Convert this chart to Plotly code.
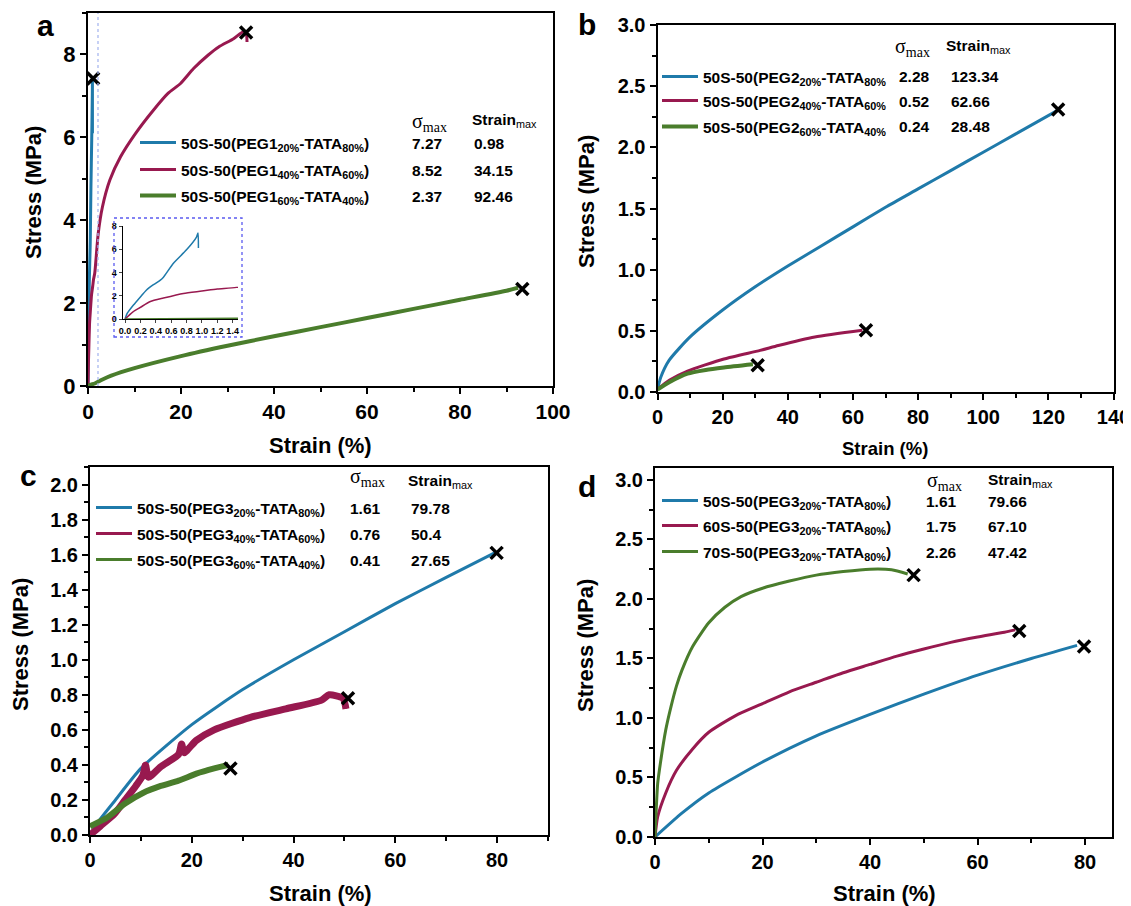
import plotly.graph_objects as go

# ---------------- data ----------------
# Panel a : PEG1 series
a_labels = ["50S-50(PEG1<sub>20%</sub>-TATA<sub>80%</sub>)",
            "50S-50(PEG1<sub>40%</sub>-TATA<sub>60%</sub>)",
            "50S-50(PEG1<sub>60%</sub>-TATA<sub>40%</sub>)"]
a_sigma = ["7.27", "8.52", "2.37"]
a_strain = ["0.98", "34.15", "92.46"]
a_blue_x = [0, 0.03, 0.11, 0.2, 0.28, 0.37, 0.46, 0.5, 0.63, 0.8, 0.93, 0.95, 0.955]
a_blue_y = [0, 0.5, 1.2, 1.9, 2.5, 2.95, 3.35, 3.6, 4.8, 5.95, 7.05, 7.4, 6.1]
a_red_x = [0, 0.1, 0.2, 0.33, 0.5, 0.76, 1.0, 1.2, 1.45, 2.2, 3.1, 4.7, 7.0, 10.2, 14.1,
           17.2, 19.9, 22.7, 25.8, 28.1, 31.3, 33.4, 34.0, 34.2]
a_red_y = [0, 0.6, 1.0, 1.5, 1.8, 2.2, 2.4, 2.58, 2.72, 3.68, 4.32, 4.97, 5.53, 6.09, 6.66,
           7.06, 7.3, 7.66, 7.98, 8.18, 8.38, 8.55, 8.52, 8.3]
a_green_x = [0, 0.5, 1.45, 3, 5, 10, 20, 30, 40, 50, 60, 70, 80, 90, 92.5]
a_green_y = [0, 0.03, 0.06, 0.15, 0.25, 0.43, 0.72, 0.97, 1.2, 1.42, 1.64, 1.86, 2.08, 2.3, 2.37]
a_break_x = [1.1, 34.0, 93.4]
a_break_y = [7.42, 8.53, 2.34]
a_inset_mark = 2.15

# Panel b : PEG2 series
b_labels = ["50S-50(PEG2<sub>20%</sub>-TATA<sub>80%</sub>",
            "50S-50(PEG2<sub>40%</sub>-TATA<sub>60%</sub>",
            "50S-50(PEG2<sub>60%</sub>-TATA<sub>40%</sub>"]
b_sigma = ["2.28", "0.52", "0.24"]
b_strain = ["123.34", "62.66", "28.48"]
b_blue_x = [0, 1, 3.6, 10, 20, 30, 40, 50, 60, 70, 80, 90, 100, 110, 122.7]
b_blue_y = [0.02, 0.12, 0.26, 0.45, 0.67, 0.86, 1.03, 1.19, 1.35, 1.51, 1.66, 1.81, 1.96, 2.11, 2.30]
b_red_x = [0, 3.6, 9.2, 20.4, 31.5, 37.1, 48.3, 62.9]
b_red_y = [0.02, 0.095, 0.17, 0.27, 0.34, 0.38, 0.45, 0.505]
b_green_x = [0, 3.6, 9.2, 14.8, 20.4, 29.3]
b_green_y = [0.02, 0.08, 0.15, 0.18, 0.20, 0.226]
b_break_x = [123.0, 64.0, 30.75]
b_break_y = [2.31, 0.505, 0.218]

# Panel c : PEG3 series
c_labels = ["50S-50(PEG3<sub>20%</sub>-TATA<sub>80%</sub>)",
            "50S-50(PEG3<sub>40%</sub>-TATA<sub>60%</sub>)",
            "50S-50(PEG3<sub>60%</sub>-TATA<sub>40%</sub>)"]
c_sigma = ["1.61", "0.76", "0.41"]
c_strain = ["79.78", "50.4", "27.65"]
c_blue_x = [0, 2, 5, 10, 20, 30, 40, 50, 60, 70, 79.5]
c_blue_y = [0.0, 0.09, 0.2, 0.38, 0.63, 0.83, 1.0, 1.16, 1.32, 1.47, 1.61]
c_red_x = [0, 2, 4.8, 6.9, 9, 10.4, 10.9, 11.5, 13.9, 17.4, 18, 18.5, 20.9, 24.4, 31.4,
           38.5, 45.5, 47, 49.7, 50.3]
c_red_y = [0, 0.05, 0.12, 0.2, 0.28, 0.34, 0.40, 0.33, 0.39, 0.46, 0.52, 0.47, 0.54, 0.6, 0.67,
           0.72, 0.77, 0.80, 0.78, 0.72]
c_green_x = [0, 3.4, 6.9, 10.4, 13.9, 17.4, 20.9, 24.4, 27.2]
c_green_y = [0.05, 0.1, 0.18, 0.24, 0.28, 0.31, 0.35, 0.38, 0.40]
c_break_x = [79.9, 50.7, 27.6]
c_break_y = [1.61, 0.78, 0.38]

# Panel d : 50S / 60S / 70S series
d_labels = ["50S-50(PEG3<sub>20%</sub>-TATA<sub>80%</sub>)",
            "60S-50(PEG3<sub>20%</sub>-TATA<sub>80%</sub>)",
            "70S-50(PEG3<sub>20%</sub>-TATA<sub>80%</sub>)"]
d_sigma = ["1.61", "1.75", "2.26"]
d_strain = ["79.66", "67.10", "47.42"]
d_blue_x = [0, 5, 10, 20, 30, 40, 50, 60, 70, 78.5]
d_blue_y = [0, 0.2, 0.37, 0.63, 0.85, 1.03, 1.2, 1.36, 1.5, 1.61]
d_red_x = [0, 0.5, 2, 4, 7, 10, 15, 20, 25, 30, 35, 40, 45, 50, 55, 60, 65, 67]
d_red_y = [0, 0.17, 0.37, 0.56, 0.74, 0.88, 1.02, 1.12, 1.22, 1.3, 1.38, 1.45, 1.52, 1.58,
           1.635, 1.68, 1.72, 1.74]
d_green_x = [0, 0.5, 1, 2, 3, 4, 5, 7, 10, 13, 16, 20, 25, 30, 35, 40, 44, 47]
d_green_y = [0, 0.45, 0.62, 0.9, 1.1, 1.27, 1.4, 1.6, 1.8, 1.93, 2.02, 2.09, 2.15, 2.2, 2.23,
             2.25, 2.245, 2.21]
d_break_x = [79.8, 67.75, 48.1]
d_break_y = [1.60, 1.73, 2.20]

# ---------------- style ----------------
OFF = 8                      # page body margin of the html page
W, H = 1131 - OFF, 906 - OFF
F = "Liberation Sans, Arial, sans-serif"
COLORS = ["#1f7aaa", "#98194f", "#4a7d2c"]


def px(x):
    return (x - OFF) / W


def py(y):
    return 1 - (y - OFF) / H


fig = go.Figure()


def axis(domain, rng, dtick, mdtick, fmt, tsize, anchor):
    return dict(domain=domain, range=rng, dtick=dtick, tick0=0, tickformat=fmt,
                showline=True, linewidth=2, linecolor="black", mirror=True,
                ticks="outside", ticklen=6, tickwidth=2, tickcolor="black",
                minor=dict(ticks="outside", ticklen=4, tickwidth=2, tickcolor="black",
                           dtick=mdtick, tick0=0),
                showgrid=False, zeroline=False, anchor=anchor, automargin=False,
                tickfont=dict(family=F, size=tsize, color="black", weight="bold"))


# suffix, xs, ys, labels, sigma, strain, breaks, line widths, noisy-band widths
panels = [
    ("", [a_blue_x, a_red_x, a_green_x], [a_blue_y, a_red_y, a_green_y], a_labels,
     a_sigma, a_strain, a_break_x, a_break_y, [3, 3, 4], [0, 0, 0]),
    ("2", [b_blue_x, b_red_x, b_green_x], [b_blue_y, b_red_y, b_green_y], b_labels,
     b_sigma, b_strain, b_break_x, b_break_y, [3, 3, 4], [0, 0, 0]),
    ("3", [c_blue_x, c_red_x, c_green_x], [c_blue_y, c_red_y, c_green_y], c_labels,
     c_sigma, c_strain, c_break_x, c_break_y, [3, 3, 3], [0, 7, 6]),
    ("4", [d_blue_x, d_red_x, d_green_x], [d_blue_y, d_red_y, d_green_y], d_labels,
     d_sigma, d_strain, d_break_x, d_break_y, [3, 3, 3], [0, 0, 0]),
]

# legend placement (pixel): line start x, row y values; value columns; headers
leg_layout = [
    (141, [143, 170, 196], 410, 472, (410, 123), (470, 121)),
    (663, [77, 101, 127], 897, 949, (893, 47), (944, 46)),
    (97, [508, 534, 560], 348, 409, (348, 477), (406, 481)),
    (663, [501, 526, 552], 924, 986, (925, 481), (986, 480)),
]

annotations = []
legend_defs = {}
leg_idx = 0
for p, (suffix, xs, ys, labels, sig, stn, bx, by, widths, bands) in enumerate(panels):
    xa = "x" + suffix
    ya = "y" + suffix
    lx, rows, sx, stx, sh, sth = leg_layout[p]
    for i in range(3):
        leg_idx += 1
        lname = "legend" if leg_idx == 1 else "legend%d" % leg_idx
        if bands[i]:
            # broad band representing the noisy signal of the measurement
            fig.add_trace(go.Scatter(
                x=xs[i], y=ys[i], mode="lines", xaxis=xa, yaxis=ya, showlegend=False,
                hoverinfo="skip",
                line=dict(color=COLORS[i], width=bands[i], shape="spline", smoothing=0.6)))
        fig.add_trace(go.Scatter(
            x=xs[i], y=ys[i], mode="lines", name=labels[i], xaxis=xa, yaxis=ya,
            line=dict(color=COLORS[i], width=widths[i], shape="spline", smoothing=0.6),
            legend=lname, showlegend=True))
        legend_defs[lname] = dict(
            x=px(lx - 6), y=py(rows[i]), xanchor="left", yanchor="middle",
            bgcolor="rgba(0,0,0,0)", borderwidth=0, itemwidth=36,
            font=dict(family=F, size=15.5, color="black", weight="bold"))
        annotations.append(dict(xref="paper", yref="paper", x=px(sx), y=py(rows[i]),
                                xanchor="left", yanchor="middle", showarrow=False,
                                text=sig[i],
                                font=dict(family=F, size=15.5, color="black", weight="bold")))
        annotations.append(dict(xref="paper", yref="paper", x=px(stx), y=py(rows[i]),
                                xanchor="left", yanchor="middle", showarrow=False,
                                text=stn[i],
                                font=dict(family=F, size=15.5, color="black", weight="bold")))
    fig.add_trace(go.Scatter(
        x=bx, y=by, mode="markers", xaxis=xa, yaxis=ya, showlegend=False,
        marker=dict(symbol="x-thin", size=12, color="black",
                    line=dict(color="black", width=3.5))))
    annotations.append(dict(xref="paper", yref="paper", x=px(sh[0]), y=py(sh[1]),
                            xanchor="left", yanchor="middle", showarrow=False,
                            text="σ<sub>max</sub>",
                            font=dict(family="Liberation Serif, serif", size=20, color="black")))
    annotations.append(dict(xref="paper", yref="paper", x=px(sth[0]), y=py(sth[1]),
                            xanchor="left", yanchor="middle", showarrow=False,
                            text="<b>Strain</b><sub>max</sub>",
                            font=dict(family=F, size=15.5, color="black")))

# inset of panel a (same data, zoomed)
for i, (xx, yy) in enumerate([(a_blue_x, a_blue_y), (a_red_x, a_red_y), (a_green_x, a_green_y)]):
    fig.add_trace(go.Scatter(x=xx, y=yy, mode="lines", xaxis="x5", yaxis="y5",
                             showlegend=False,
                             line=dict(color=COLORS[i], width=1.5, shape="spline", smoothing=0.6)))

fig.update_layout(
    width=W, height=H, margin=dict(l=0, r=0, t=0, b=0),
    paper_bgcolor="white", plot_bgcolor="white", showlegend=True,
    xaxis=axis([px(88), px(553)], [0, 100], 20, 10, "d", 21, "y"),
    yaxis=axis([py(386), py(13)], [0, 9], 2, 1, "d", 22, "x"),
    xaxis2=axis([px(657.5), px(1113.5)], [0, 140], 20, 10, "d", 20, "y2"),
    yaxis2=axis([py(392), py(25)], [0, 3], 0.5, 0.25, ".1f", 20, "x2"),
    xaxis3=axis([px(90), px(548)], [0, 90], 20, 10, "d", 20, "y3"),
    yaxis3=axis([py(835), py(467)], [0, 2.1], 0.2, 0.1, ".1f", 20, "x3"),
    xaxis4=axis([px(655), px(1112)], [0, 85], 20, 10, "d", 20, "y4"),
    yaxis4=axis([py(837), py(468)], [0, 3.1], 0.5, 0.25, ".1f", 20, "x4"),
    xaxis5=dict(domain=[px(122.7), px(238)], range=[-0.03, 1.47], dtick=0.2, tick0=0,
                tickformat=".1f", anchor="y5", showline=True, linewidth=1.2, linecolor="black",
                ticks="outside", ticklen=3, tickwidth=1, showgrid=False, zeroline=False,
                automargin=False,
                tickfont=dict(family=F, size=9, color="black", weight="bold")),
    yaxis5=dict(domain=[py(319), py(226)], range=[0, 8], dtick=2, tick0=0, anchor="x5",
                showline=True, linewidth=1.2, linecolor="black", ticks="outside", ticklen=3,
                tickwidth=1, showgrid=False, zeroline=False, automargin=False,
                tickfont=dict(family=F, size=9, color="black", weight="bold")),
    **legend_defs,
)

# panel letters and axis titles
for letter, (x, y) in zip("abcd", [(45, 26), (587, 24), (28, 476), (587, 487)]):
    annotations.append(dict(xref="paper", yref="paper", x=px(x), y=py(y), text=letter,
                            showarrow=False, xanchor="center", yanchor="middle",
                            font=dict(family=F, size=30, color="black", weight="bold")))
for (x, y), s in zip([(320, 445), (885, 449), (320, 893), (884, 893)], [22, 18.5, 22, 22]):
    annotations.append(dict(xref="paper", yref="paper", x=px(x), y=py(y), text="Strain (%)",
                            showarrow=False, xanchor="center", yanchor="middle",
                            font=dict(family=F, size=s, color="black", weight="bold")))
for (x, y) in [(33, 193), (587, 202), (20, 645), (585, 646)]:
    annotations.append(dict(xref="paper", yref="paper", x=px(x), y=py(y), text="Stress (MPa)",
                            textangle=-90, showarrow=False, xanchor="center", yanchor="middle",
                            font=dict(family=F, size=22, color="black", weight="bold")))
fig.update_layout(annotations=annotations)

# inset frame and its marker line in panel a
fig.add_shape(type="rect", xref="paper", yref="paper", x0=px(114), x1=px(242),
              y0=py(337), y1=py(218), line=dict(color="#5b5bf0", width=1.3, dash="dot"))
fig.add_shape(type="line", xref="x", yref="y domain", x0=a_inset_mark, x1=a_inset_mark,
              y0=0, y1=1, line=dict(color="#a9b8f0", width=1.3, dash="dot"))

fig.write_html("out.html")
